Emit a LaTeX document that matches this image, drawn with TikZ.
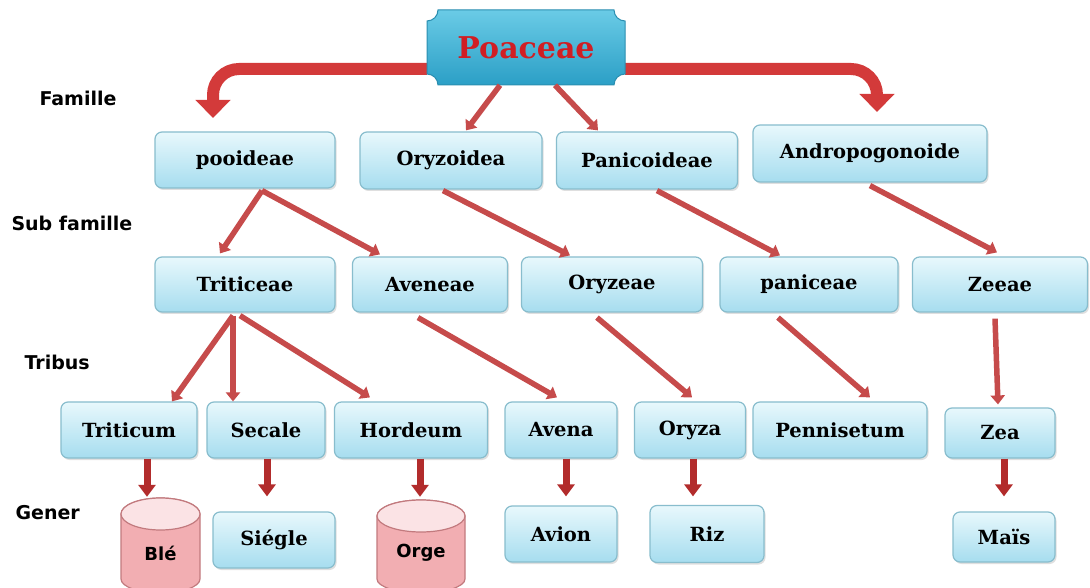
\documentclass[tikz,border=0pt]{standalone}
\usepackage{fontspec}
\setmainfont{DejaVu Serif}
\newfontfamily\labfont{DejaVu Sans}
\usetikzlibrary{arrows.meta,shadows}
\definecolor{boxtop}{HTML}{E8F8FC}
\definecolor{boxbot}{HTML}{A6DDEF}
\definecolor{boxline}{HTML}{88BDCD}
\definecolor{arr}{HTML}{C64B4B}
\definecolor{arrdark}{HTML}{B22C2C}
\definecolor{bigarr}{HTML}{D33A3A}
\definecolor{poatop}{HTML}{6ACBE6}
\definecolor{poabot}{HTML}{2B9FC6}
\definecolor{poaline}{HTML}{2A8EB0}
\definecolor{poatext}{HTML}{D01E24}
\definecolor{cyltop}{HTML}{FBE3E5}
\definecolor{cylbody}{HTML}{F2AEB2}
\definecolor{cylline}{HTML}{C27A7E}
\newcommand{\mycyl}[3]{%
  \path[fill=cylbody, draw=cylline, line width=1.2pt] (#1-#2, #3-16) -- (#1-#2, 8) arc[start angle=180,end angle=360,x radius=#2,y radius=14] -- (#1+#2, #3-16) arc[start angle=0, end angle=180, x radius=#2, y radius=16] -- cycle;
  \path[fill=cyltop, draw=cylline, line width=1.2pt] (#1, #3-16) ellipse[x radius=#2, y radius=16];
}
\begin{document}
\begin{tikzpicture}[x=1pt,y=1pt,
 box/.style={draw=boxline, line width=1.2pt, rounded corners=7pt, top color=boxtop, bottom color=boxbot, font=\bfseries\fontsize{19.5}{21}\selectfont, inner sep=0pt, drop shadow={opacity=0.25, shadow xshift=1.5pt, shadow yshift=-2pt}},
 lev/.style={font=\labfont\bfseries\fontsize{19}{21}\selectfont, anchor=west},
 conn/.style={draw=arr, line width=5.5pt, -{Triangle[width=14pt,length=9pt]}},
 drop/.style={draw=arrdark, line width=7pt, -{Triangle[width=17pt,length=12pt]}},
 big/.style={draw=bigarr, line width=12pt, rounded corners=26pt, -{Triangle[width=34pt,length=18pt]}},
 cyltext/.style={font=\labfont\bfseries\fontsize{18}{20}\selectfont},
 hold/.style={inner sep=0pt}
]
\useasboundingbox (0,0) rectangle (1090,587);
\fill[white] (0,0) rectangle (1090,587);

% level labels
\node[lev] (lfam) at (36,489) {Famille};
\node[lev] (lsub) at (8,364) {Sub famille};
\node[lev] (ltri) at (21,225) {Tribus};
\node[lev] (lgen) at (12,74) {Gener};

% Poaceae
\node[hold, minimum width=198pt, minimum height=75pt] (poa) at (526,539.5) {};
\coordinate (lt) at (213,469);
\coordinate (rt) at (877,475);
\draw[big] ([yshift=-21.5pt]poa.west) -| (lt);
\draw[big] ([yshift=-21.5pt]poa.east) -| (rt);
\path[top color=poatop, bottom color=poabot, draw=poaline, line width=1pt]
  (438,577) -- (614,577) arc[start angle=180,end angle=270,radius=11]
  -- (625,513) arc[start angle=90,end angle=180,radius=11]
  -- (438,502) arc[start angle=0,end angle=90,radius=11]
  -- (427,566) arc[start angle=270,end angle=360,radius=11] -- cycle;
\node[font=\bfseries\fontsize{30}{32}\selectfont, text=poatext] at (poa.center) {Poaceae};

% sub families
\node[box, minimum width=180pt, minimum height=56pt] (poo) at (245,427) {pooideae};
\node[box, minimum width=182pt, minimum height=57pt] (ory) at (451,426.5) {Oryzoidea};
\node[box, minimum width=181pt, minimum height=57pt] (pan) at (647,426.5) {Panicoideae};
\node[box, minimum width=234pt, minimum height=57pt] (and) at (870,433.5) {Andropogonoide};

% tribus
\node[box, minimum width=180pt, minimum height=55pt] (trit) at (245,302.5) {Triticeae};
\node[box, minimum width=155pt, minimum height=55pt] (aven) at (430,302.5) {Aveneae};
\node[box, minimum width=181pt, minimum height=55pt] (oryz) at (612,302.5) {Oryzeae};
\node[box, minimum width=178pt, minimum height=55pt] (pani) at (809,302.5) {paniceae};
\node[box, minimum width=175pt, minimum height=55pt] (zees) at (1000,302.5) {Zeeae};

% genera
\node[box, minimum width=136pt, minimum height=56pt] (tcum) at (129,157) {Triticum};
\node[box, minimum width=118pt, minimum height=56pt] (sec) at (266,157) {Secale};
\node[box, minimum width=153pt, minimum height=56pt] (hor) at (411,157) {Hordeum};
\node[box, minimum width=112pt, minimum height=56pt] (ave) at (561,157) {Avena};
\node[box, minimum width=111pt, minimum height=56pt] (oza) at (690,157) {Oryza};
\node[box, minimum width=174pt, minimum height=56pt] (pen) at (840,157) {Pennisetum};
\node[box, minimum width=110pt, minimum height=50pt] (zea) at (1000,154) {Zea};

% common names
\mycyl{160.5}{39.5}{89}
\mycyl{421}{44}{87}
\node[hold, minimum width=79pt, minimum height=100pt] (ble) at (160.5,39) {};
\node[cyltext] (bletxt) at ([yshift=-5pt]ble.center) {Blé};
\node[hold, minimum width=88pt, minimum height=100pt] (orge) at (421,37) {};
\node[cyltext] (orgetxt) at ([yshift=-3pt]orge.center) {Orge};
\node[box, minimum width=122pt, minimum height=56pt] (sieg) at (274,47) {Siégle};
\node[box, minimum width=112pt, minimum height=56pt] (avi) at (561,53) {Avion};
\node[box, minimum width=114pt, minimum height=57pt] (riz) at (707,53) {Riz};
\node[box, minimum width=102pt, minimum height=50pt] (mais) at (1004,50) {Maïs};

% connectors
\draw[conn] ([xshift=-26pt]poa.south) -- ([xshift=15pt,yshift=1pt]ory.north);
\draw[conn] ([xshift=29pt]poa.south) -- ([xshift=-49pt,yshift=1pt]pan.north);
\draw[conn] ([xshift=17pt,yshift=-2pt]poo.south) -- ([xshift=-25pt,yshift=3pt]trit.north);
\draw[conn] ([xshift=17pt,yshift=-2pt]poo.south) -- ([xshift=-50pt,yshift=2pt]aven.north);
\draw[conn] ([xshift=-8pt,yshift=-1pt]ory.south) -- ([xshift=-42pt,yshift=1pt]oryz.north);
\draw[conn] ([xshift=10pt,yshift=-1pt]pan.south) -- ([xshift=-29pt,yshift=1pt]pani.north);
\draw[conn] ([yshift=-3pt]and.south) -- ([xshift=-3pt,yshift=4pt]zees.north);
\draw[conn] ([xshift=-12pt,yshift=-3pt]trit.south) -- ([xshift=43pt]tcum.north);
\draw[conn] ([xshift=-12pt,yshift=-3pt]trit.south) -- ([xshift=-33pt]sec.north);
\draw[conn] ([xshift=-5pt,yshift=-3pt]trit.south) -- ([xshift=-41pt,yshift=4pt]hor.north);
\draw[conn] ([xshift=-12pt,yshift=-5pt]aven.south) -- ([xshift=-4pt,yshift=4pt]ave.north);
\draw[conn] ([xshift=-15pt,yshift=-5pt]oryz.south) -- ([xshift=2pt,yshift=4pt]oza.north);
\draw[conn] ([xshift=-31pt,yshift=-5pt]pani.south) -- ([xshift=30pt,yshift=4pt]pen.north);
\draw[conn] ([xshift=-5pt,yshift=-6pt]zees.south) -- ([xshift=-2pt,yshift=3pt]zea.north);

\draw[drop] ([xshift=18pt]tcum.south) -- ([xshift=-13.5pt,yshift=1pt]ble.north);
\draw[drop] ([xshift=1pt]sec.south) -- ([xshift=-7pt,yshift=15pt]sieg.north);
\draw[drop] ([xshift=9pt]hor.south) -- ([xshift=-1pt,yshift=3pt]orge.north);
\draw[drop] ([xshift=5pt]ave.south) -- ([xshift=5pt,yshift=9pt]avi.north);
\draw[drop] ([xshift=3pt]oza.south) -- ([xshift=-14pt,yshift=8.5pt]riz.north);
\draw[drop] ([xshift=4pt]zea.south) -- ([yshift=15pt]mais.north);
\end{tikzpicture}
\end{document}
